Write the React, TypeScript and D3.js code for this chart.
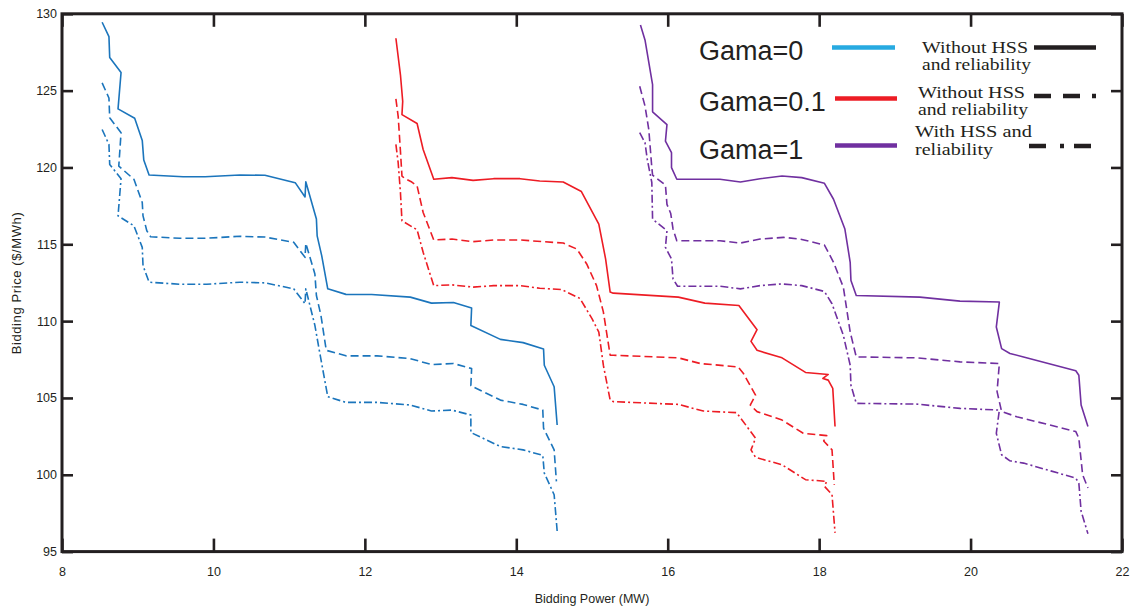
import React, { useEffect, useRef } from "react";
import * as d3 from "d3";

type Pt = [number, number];

// x: Bidding Power (MW), y: Bidding Price ($/MWh)
const gama0Solid: Pt[] = [[8.53,129.45],[8.62,128.52],[8.63,127.15],[8.78,126.18],[8.74,123.81],[8.96,123.2],[9.06,121.76],[9.08,120.48],[9.15,119.51],[9.6,119.4],[9.89,119.4],[10.35,119.51],[10.68,119.49],[11.08,119.01],[11.21,118.08],[11.22,119.07],[11.36,116.64],[11.37,115.55],[11.43,114.26],[11.51,112.1],[11.75,111.74],[12.09,111.73],[12.6,111.56],[12.88,111.17],[13.17,111.21],[13.41,110.85],[13.4,109.72],[13.79,108.81],[14.09,108.6],[14.36,108.19],[14.37,107.13],[14.5,105.73],[14.54,103.24]];
const gama0Dashed: Pt[] = [[8.53,125.5],[8.62,124.52],[8.63,123.23],[8.78,122.26],[8.75,120.09],[8.95,119.23],[9.06,117.72],[9.07,116.85],[9.12,115.88],[9.17,115.49],[9.56,115.39],[9.89,115.39],[10.35,115.52],[10.68,115.47],[11.06,115.13],[11.21,114.15],[11.22,115.06],[11.34,113.07],[11.36,111.67],[11.42,110.37],[11.49,108.1],[11.75,107.74],[12.16,107.74],[12.6,107.56],[12.88,107.17],[13.17,107.24],[13.41,106.91],[13.4,105.79],[13.79,104.86],[14.09,104.58],[14.35,104.21],[14.36,103.03],[14.5,101.62],[14.53,99.57]];
const gama0DashDot: Pt[] = [[8.53,122.47],[8.62,121.5],[8.63,120.2],[8.78,119.27],[8.74,116.85],[8.95,116.2],[9.06,114.8],[9.07,113.61],[9.15,112.53],[9.56,112.4],[9.91,112.4],[10.35,112.53],[10.68,112.49],[11.06,112.1],[11.21,111.13],[11.22,112.1],[11.34,109.72],[11.41,107.78],[11.51,105.08],[11.75,104.71],[12.16,104.71],[12.6,104.54],[12.88,104.15],[13.15,104.21],[13.4,103.89],[13.4,102.75],[13.79,101.84],[14.09,101.62],[14.35,101.26],[14.37,100.11],[14.5,98.7],[14.54,96.33]];

const gama01Solid: Pt[] = [[12.41,128.41],[12.47,126.03],[12.5,124.3],[12.49,123.44],[12.69,122.86],[12.77,121.17],[12.91,119.23],[13.15,119.34],[13.43,119.16],[13.7,119.27],[14.05,119.27],[14.31,119.12],[14.62,119.05],[14.86,118.43],[15.09,116.31],[15.18,114.04],[15.24,111.89],[15.28,111.82],[16.14,111.56],[16.49,111.17],[16.94,111.02],[17.18,109.44],[17.1,108.68],[17.18,108.1],[17.51,107.61],[17.82,106.66],[18.12,106.53],[18.05,106.27],[18.12,106.16],[18.18,105.62],[18.21,103.14]];
const gama01Dashed: Pt[] = [[12.41,124.46],[12.44,123.33],[12.47,121.06],[12.49,119.44],[12.53,119.27],[12.62,119.05],[12.69,118.8],[12.77,117.07],[12.91,115.28],[13.15,115.34],[13.43,115.17],[13.7,115.28],[14.05,115.28],[14.36,115.17],[14.62,115.08],[14.8,114.69],[14.93,113.72],[15.06,112.31],[15.15,110.6],[15.24,107.78],[15.28,107.78],[16.14,107.61],[16.43,107.24],[16.93,107.02],[17.0,106.59],[17.16,105.19],[17.09,104.54],[17.18,104.11],[17.51,103.56],[17.79,102.7],[18.1,102.55],[18.06,102.2],[18.17,101.62],[18.2,99.35]];
const gama01DashDot: Pt[] = [[12.41,121.5],[12.44,120.31],[12.47,118.37],[12.49,116.53],[12.69,115.94],[12.77,114.48],[12.91,112.31],[13.15,112.36],[13.43,112.21],[13.7,112.31],[14.05,112.31],[14.31,112.14],[14.6,112.05],[14.84,111.48],[15.0,110.16],[15.09,109.29],[15.15,107.13],[15.24,104.86],[15.28,104.76],[16.14,104.58],[16.47,104.15],[16.91,104.04],[17.16,102.38],[17.1,101.62],[17.16,101.13],[17.51,100.65],[17.82,99.68],[18.1,99.57],[18.07,99.25],[18.17,98.71],[18.21,96.22]];

const gama1Solid: Pt[] = [[15.64,129.27],[15.7,128.3],[15.8,125.39],[15.8,123.62],[15.99,122.79],[15.97,121.71],[16.05,120.96],[16.05,119.99],[16.12,119.23],[16.69,119.23],[16.96,119.05],[17.22,119.27],[17.51,119.44],[17.77,119.34],[18.07,118.97],[18.19,117.93],[18.34,115.99],[18.41,113.83],[18.42,112.64],[18.49,111.67],[19.33,111.56],[19.86,111.3],[20.38,111.24],[20.34,109.62],[20.41,108.21],[20.52,107.89],[20.7,107.67],[21.39,106.77],[21.43,106.48],[21.46,104.54],[21.55,103.14]];
const gama1Dashed: Pt[] = [[15.63,125.28],[15.7,124.0],[15.75,122.47],[15.79,120.0],[15.8,119.5],[15.97,118.85],[15.99,117.6],[16.04,117.0],[16.07,116.0],[16.12,115.23],[16.69,115.23],[16.96,115.08],[17.22,115.34],[17.53,115.45],[17.75,115.34],[18.07,114.95],[18.19,113.83],[18.32,112.2],[18.41,109.29],[18.49,107.67],[19.29,107.61],[19.86,107.35],[20.38,107.24],[20.35,105.41],[20.41,104.11],[20.61,103.78],[21.39,102.81],[21.43,102.38],[21.48,100.0],[21.55,99.14]];
const gama1DashDot: Pt[] = [[15.63,122.26],[15.7,121.61],[15.73,120.53],[15.79,119.02],[15.8,116.64],[15.99,115.88],[15.97,114.8],[16.05,114.04],[16.07,112.75],[16.13,112.27],[16.69,112.27],[16.96,112.1],[17.22,112.31],[17.51,112.42],[17.77,112.31],[18.07,111.93],[18.17,111.13],[18.32,109.07],[18.41,107.13],[18.42,105.83],[18.49,104.65],[19.29,104.6],[19.86,104.32],[20.38,104.21],[20.34,102.7],[20.41,101.3],[20.52,100.91],[20.7,100.76],[21.39,99.78],[21.43,99.46],[21.46,97.63],[21.55,96.16]];

const xTicks = [8, 10, 12, 14, 16, 18, 20, 22];
const yTicks = [95, 100, 105, 110, 115, 120, 125, 130];

const gamaLabels = ["Gama=0", "Gama=0.1", "Gama=1"];
const caseLabels = [["Without HSS", "and reliability"], ["Without HSS", "and reliability"], ["With HSS and", "reliability"]];

const W = 1130, H = 610;
const M = { left: 62, right: 8, top: 14, bottom: 56 };
const INK = "#231f20";
const BLUE = "#1b75bc";
const RED = "#ed1c24";
const PURPLE = "#7030a0";
const SANS = "'Liberation Sans', Arial, Helvetica, sans-serif";
const SERIF = "'Liberation Serif', 'Times New Roman', serif";

const DASH = "8,4";
const DASHDOT = "8,3,2,3";

export default function App() {
  const xAxisRef = useRef<SVGGElement>(null);
  const yAxisRef = useRef<SVGGElement>(null);
  const topRef = useRef<SVGGElement>(null);
  const rightRef = useRef<SVGGElement>(null);

  const x = d3.scaleLinear().domain([8, 22]).range([M.left, W - M.right]);
  const y = d3.scaleLinear().domain([95, 130]).range([H - M.bottom - 2.4, M.top - 0.2]);
  const line = d3.line<Pt>().x(d => x(d[0])).y(d => y(d[1]));

  useEffect(() => {
    const style = (g: d3.Selection<SVGGElement, unknown, null, undefined>) => {
      g.select(".domain").remove();
      g.selectAll(".tick line").attr("stroke", INK).attr("stroke-width", 2.6);
      g.selectAll(".tick text").attr("fill", INK).attr("font-family", SANS).attr("font-size", 12.5);
    };
    const gx = d3.select(xAxisRef.current!);
    gx.call(d3.axisBottom(x).tickValues(xTicks).tickSizeInner(-13).tickSizeOuter(0).tickPadding(16).tickFormat(d3.format("d")) as any);
    style(gx);
    const gy = d3.select(yAxisRef.current!);
    gy.call(d3.axisLeft(y).tickValues(yTicks).tickSizeInner(-11).tickSizeOuter(0).tickPadding(5).tickFormat(d3.format("d")) as any);
    style(gy);
    const gt = d3.select(topRef.current!);
    gt.call(d3.axisTop(x).tickValues(xTicks).tickSizeInner(-13).tickSizeOuter(0).tickFormat(() => "") as any);
    style(gt);
    const gr = d3.select(rightRef.current!);
    gr.call(d3.axisRight(y).tickValues(yTicks).tickSizeInner(-11).tickSizeOuter(0).tickFormat(() => "") as any);
    style(gr);
  }, []);

  const series = [
    { d: gama0Solid, c: BLUE, dash: "none" },
    { d: gama0Dashed, c: BLUE, dash: DASH },
    { d: gama0DashDot, c: BLUE, dash: DASHDOT },
    { d: gama01Solid, c: RED, dash: "none" },
    { d: gama01Dashed, c: RED, dash: DASH },
    { d: gama01DashDot, c: RED, dash: DASHDOT },
    { d: gama1Solid, c: PURPLE, dash: "none" },
    { d: gama1Dashed, c: PURPLE, dash: DASH },
    { d: gama1DashDot, c: PURPLE, dash: DASHDOT },
  ];

  const x0 = x(8), x1 = x(22), y0 = y(95), y1 = y(130);

  const legendColors = ["#27aae1", RED, PURPLE];
  const gamaBase = [60, 110.5, 159];
  const colorLineY = [47.5, 98.5, 145.5];
  const colorLineX = [[832, 895], [835, 897], [835, 897]];
  const caseX = [922, 918, 915];
  const caseBase = [[52.5, 70], [97.5, 114.5], [136.5, 155]];
  const caseW = [[106, 109], [107, 110], [117, 78]];
  const blackY = [47.5, 96, 146];
  const blackX = [[1034, 1096], [1034, 1096], [1029, 1092]];
  const blackDash = ["none", "17,12", "17,14,4,10"];

  return (
    <svg width={W} height={H} style={{ position: "absolute", left: 0, top: 0, background: "#fff" }}>
      <rect x={0} y={0} width={W} height={H} fill="#fff" />
      {series.map((s, i) => (
        <path key={i} d={line(s.d) || ""} fill="none" stroke={s.c} strokeWidth={1.6}
          strokeDasharray={s.dash} strokeLinejoin="round" />
      ))}
      <g ref={xAxisRef} transform={`translate(0,${y0})`} />
      <g ref={yAxisRef} transform={`translate(${x0},0)`} />
      <g ref={topRef} transform={`translate(0,${y1})`} />
      <g ref={rightRef} transform={`translate(${x1},0)`} />
      <rect x={x0} y={y1} width={x1 - x0} height={y0 - y1} fill="none" stroke={INK} strokeWidth={3} />
      <text x={592} y={603} textAnchor="middle" fontFamily={SANS} fontSize={12.5} fill={INK}>Bidding Power (MW)</text>
      <text transform={`translate(21,283) rotate(-90)`} textAnchor="middle" fontFamily={SANS} fontSize={13} fill={INK} letterSpacing={0.6}>Bidding Price ($/MWh)</text>

      {gamaLabels.map((t, i) => (
        <g key={t}>
          <text x={699} y={gamaBase[i]} fontFamily={SANS} fontSize={27} fill={INK}>{t}</text>
          <line x1={colorLineX[i][0]} x2={colorLineX[i][1]} y1={colorLineY[i]} y2={colorLineY[i]} stroke={legendColors[i]} strokeWidth={4.5} />
          <text x={caseX[i]} y={caseBase[i][0]} fontFamily={SERIF} fontSize={16.5} fill={INK}
            textLength={caseW[i][0]} lengthAdjust="spacingAndGlyphs">{caseLabels[i][0]}</text>
          <text x={caseX[i]} y={caseBase[i][1]} fontFamily={SERIF} fontSize={16.5} fill={INK}
            textLength={caseW[i][1]} lengthAdjust="spacingAndGlyphs">{caseLabels[i][1]}</text>
          <line x1={blackX[i][0]} x2={blackX[i][1]} y1={blackY[i]} y2={blackY[i]} stroke={INK} strokeWidth={4.5} strokeDasharray={blackDash[i]} />
        </g>
      ))}
    </svg>
  );
}
